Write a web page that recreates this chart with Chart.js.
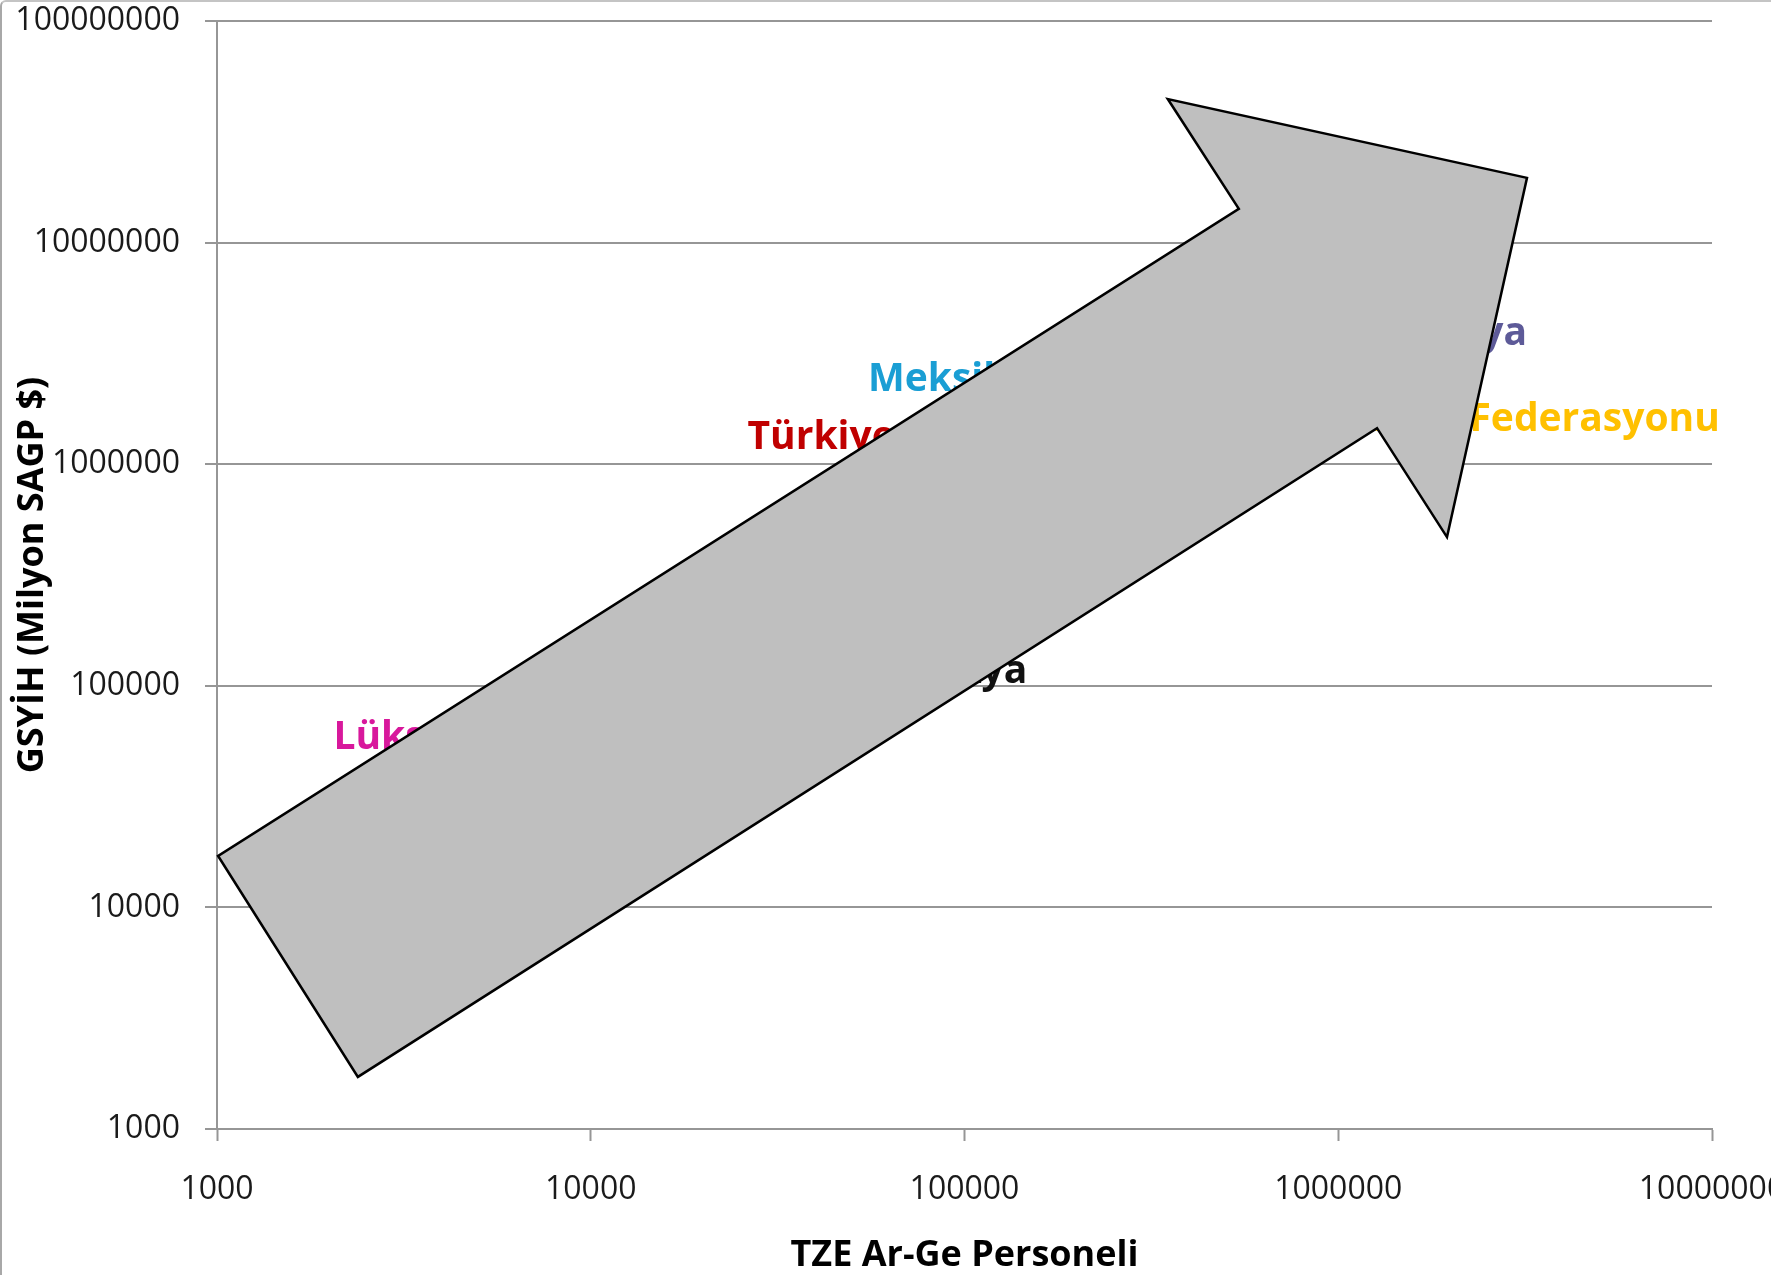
<!DOCTYPE html>
<html>
<head>
<meta charset="utf-8">
<script src="https://cdn.jsdelivr.net/npm/chart.js@4.4.1/dist/chart.umd.min.js"></script>
<style>
  html, body { margin: 0; padding: 0; background: #fff; overflow: hidden; }
  #wrap { position: relative; width: 1771px; height: 1275px; overflow: hidden; }
  #frame { position: absolute; left: 0; top: 0; width: 1771px; height: 1275px;
           border-left: 2px solid #a8a8a8; border-top: 2px solid #c4c4c4; box-sizing: border-box;
           border-top-left-radius: 6px; pointer-events: none; }
</style>
</head>
<body>
<div id="wrap">
  <canvas id="chart1" width="1840" height="1275"></canvas>
  <div id="frame"></div>
</div>
<script>
const countries = ['Lüksemburg', 'Türkiye', 'Meksika', 'Slovakya', 'Japonya', 'Rusya Federasyonu'];
const personnel = [1950, 25000, 52500, 48200, 1160000, 979000];
const gdp = [60000, 1355000, 2470000, 119000, 3990000, 1633000];
const labelColors = ['#d8189c', '#c00000', '#1a9ed4', '#111111', '#5d5a98', '#ffc000'];

const xTicks = [1000, 10000, 100000, 1000000, 10000000];
const yTicks = [1000, 10000, 100000, 1000000, 10000000, 100000000];

// big grey arrow drawn over the chart, vertices in axis units
const arrowX = [1007, 2382, 1270000, 1954000, 3199000, 349900, 542000];
const arrowY = [17060, 1718, 1455000, 468800, 19590000, 44460000, 14190000];

const gridColor = '#969696';
const tickFont = { family: 'Open Sans', size: 32 };
const titleFont = { family: 'Open Sans', size: 36, weight: 'bold' };

let points = [];
for (let i = 0; i < countries.length; i++) {
  points.push({ x: personnel[i], y: gdp[i] });
}

const labelAndArrow = {
  id: 'labelAndArrow',
  afterDatasetsDraw(chart) {
    const ctx = chart.ctx;
    const xs = chart.scales.x, ys = chart.scales.y;
    const meta = chart.getDatasetMeta(0);
    ctx.save();
    ctx.font = 'bold 39px "Open Sans"';
    ctx.textAlign = 'left';
    ctx.textBaseline = 'alphabetic';
    meta.data.forEach((el, i) => {
      ctx.fillStyle = labelColors[i];
      ctx.fillText(countries[i], el.x + 8, el.y + 14);
    });
    ctx.beginPath();
    for (let i = 0; i < arrowX.length; i++) {
      const px = xs.getPixelForValue(arrowX[i]);
      const py = ys.getPixelForValue(arrowY[i]);
      if (i === 0) ctx.moveTo(px, py); else ctx.lineTo(px, py);
    }
    ctx.closePath();
    ctx.fillStyle = '#bfbfbf';
    ctx.fill();
    ctx.lineWidth = 2.5;
    ctx.lineJoin = 'miter';
    ctx.strokeStyle = '#000';
    ctx.stroke();
    ctx.restore();
  }
};

const ctx = document.getElementById('chart1');
const myChart = new Chart(ctx, {
  type: 'scatter',
  data: {
    datasets: [{
      label: 'Ülkeler',
      data: points,
      pointRadius: 0,
      pointHoverRadius: 0
    }]
  },
  options: {
    responsive: false,
    animation: false,
    events: [],
    layout: { padding: { top: 21, right: 128, bottom: 0, left: 0 } },
    plugins: {
      legend: { display: false },
      tooltip: { enabled: false }
    },
    scales: {
      x: {
        type: 'logarithmic',
        min: 1000,
        max: 10000000,
        afterBuildTicks: (scale) => { scale.ticks = xTicks.map(v => ({ value: v })); },
        afterFit: (scale) => { scale.height = 146; },
        ticks: {
          font: tickFont,
          color: '#1a1a1a',
          padding: 30,
          maxRotation: 0,
          autoSkip: false,
          callback: (v) => String(v)
        },
        grid: { drawOnChartArea: false, drawTicks: true, tickLength: 12, tickColor: gridColor, tickWidth: 2 },
        border: { color: gridColor, width: 2 },
        title: { display: true, text: 'TZE Ar-Ge Personeli', font: titleFont, color: '#000', padding: { top: 0, bottom: -2 } }
      },
      y: {
        type: 'logarithmic',
        min: 1000,
        max: 100000000,
        afterBuildTicks: (scale) => { scale.ticks = yTicks.map(v => ({ value: v })); },
        afterFit: (scale) => {
          scale.width = 217;
          scale.paddingTop = 0;
          scale.paddingBottom = 0;
        },
        ticks: {
          font: tickFont,
          color: '#1a1a1a',
          padding: 25,
          autoSkip: false,
          callback: (v) => String(v)
        },
        grid: { color: gridColor, lineWidth: 2, drawTicks: true, tickLength: 12, tickColor: gridColor, tickWidth: 2 },
        border: { color: gridColor, width: 2 },
        title: { display: true, text: 'GSYİH (Milyon SAGP $)', font: titleFont, color: '#000', padding: { top: 11, bottom: 0 } }
      }
    }
  },
  plugins: [labelAndArrow]
});
</script>
</body>
</html>
